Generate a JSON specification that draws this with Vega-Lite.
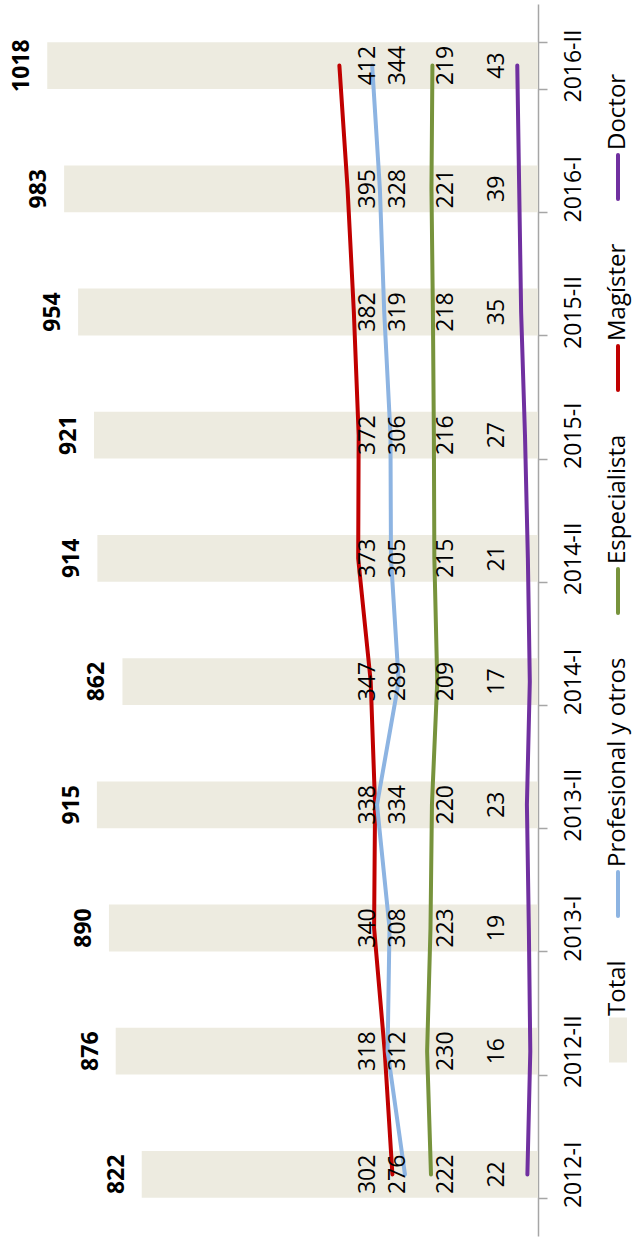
{
  "$schema": "https://vega.github.io/schema/vega-lite/v6.json",
  "width": 538,
  "height": 1232,
  "padding": {"left": 0, "top": 3, "right": 0, "bottom": 7},
  "background": "white",
  "config": {"view": {"stroke": null}, "font": "Open Sans"},
  "data": {"values": [
    {"period": "2012-I", "series": "Total", "value": 822},
    {"period": "2012-I", "series": "Magíster", "value": 302},
    {"period": "2012-I", "series": "Profesional y otros", "value": 276},
    {"period": "2012-I", "series": "Especialista", "value": 222},
    {"period": "2012-I", "series": "Doctor", "value": 22},
    {"period": "2012-II", "series": "Total", "value": 876},
    {"period": "2012-II", "series": "Magíster", "value": 318},
    {"period": "2012-II", "series": "Profesional y otros", "value": 312},
    {"period": "2012-II", "series": "Especialista", "value": 230},
    {"period": "2012-II", "series": "Doctor", "value": 16},
    {"period": "2013-I", "series": "Total", "value": 890},
    {"period": "2013-I", "series": "Magíster", "value": 340},
    {"period": "2013-I", "series": "Profesional y otros", "value": 308},
    {"period": "2013-I", "series": "Especialista", "value": 223},
    {"period": "2013-I", "series": "Doctor", "value": 19},
    {"period": "2013-II", "series": "Total", "value": 915},
    {"period": "2013-II", "series": "Magíster", "value": 338},
    {"period": "2013-II", "series": "Profesional y otros", "value": 334},
    {"period": "2013-II", "series": "Especialista", "value": 220},
    {"period": "2013-II", "series": "Doctor", "value": 23},
    {"period": "2014-I", "series": "Total", "value": 862},
    {"period": "2014-I", "series": "Magíster", "value": 347},
    {"period": "2014-I", "series": "Profesional y otros", "value": 289},
    {"period": "2014-I", "series": "Especialista", "value": 209},
    {"period": "2014-I", "series": "Doctor", "value": 17},
    {"period": "2014-II", "series": "Total", "value": 914},
    {"period": "2014-II", "series": "Magíster", "value": 373},
    {"period": "2014-II", "series": "Profesional y otros", "value": 305},
    {"period": "2014-II", "series": "Especialista", "value": 215},
    {"period": "2014-II", "series": "Doctor", "value": 21},
    {"period": "2015-I", "series": "Total", "value": 921},
    {"period": "2015-I", "series": "Magíster", "value": 372},
    {"period": "2015-I", "series": "Profesional y otros", "value": 306},
    {"period": "2015-I", "series": "Especialista", "value": 216},
    {"period": "2015-I", "series": "Doctor", "value": 27},
    {"period": "2015-II", "series": "Total", "value": 954},
    {"period": "2015-II", "series": "Magíster", "value": 382},
    {"period": "2015-II", "series": "Profesional y otros", "value": 319},
    {"period": "2015-II", "series": "Especialista", "value": 218},
    {"period": "2015-II", "series": "Doctor", "value": 35},
    {"period": "2016-I", "series": "Total", "value": 983},
    {"period": "2016-I", "series": "Magíster", "value": 395},
    {"period": "2016-I", "series": "Profesional y otros", "value": 328},
    {"period": "2016-I", "series": "Especialista", "value": 221},
    {"period": "2016-I", "series": "Doctor", "value": 39},
    {"period": "2016-II", "series": "Total", "value": 1018},
    {"period": "2016-II", "series": "Magíster", "value": 412},
    {"period": "2016-II", "series": "Profesional y otros", "value": 344},
    {"period": "2016-II", "series": "Especialista", "value": 219},
    {"period": "2016-II", "series": "Doctor", "value": 43}
  ]},
  "encoding": {
    "y": {
      "field": "period", "type": "nominal",
      "sort": ["2016-II", "2016-I", "2015-II", "2015-I", "2014-II", "2014-I", "2013-II", "2013-I", "2012-II", "2012-I"],
      "scale": {"paddingInner": 0.62, "paddingOuter": 0.31},
      "axis": {
        "orient": "right", "title": null, "grid": false,
        "domainColor": "#A6A6A6", "domainWidth": 1.5,
        "tickColor": "#A6A6A6", "tickWidth": 1.5, "tickSize": 9, "tickBand": "extent",
        "labelAngle": 270, "labelAlign": "center", "labelBaseline": "top", "labelPadding": 15,
        "labelFont": "Open Sans", "labelFontSize": 23, "labelColor": "#000000",
        "labelOverlap": false, "labelLimit": 0
      }
    }
  },
  "layer": [
    {
      "transform": [{"filter": "datum.series === 'Total'"}],
      "mark": {"type": "bar"},
      "encoding": {
        "x": {"field": "value", "type": "quantitative", "scale": {"domain": [0, 1116], "reverse": true, "nice": false, "zero": true}, "axis": null},
        "color": {
          "field": "series", "type": "nominal",
          "scale": {"domain": ["Doctor", "Magíster", "Especialista", "Profesional y otros", "Total"], "range": ["#7030A0", "#C00000", "#77933C", "#8DB4E2", "#EDEBE0"]},
          "legend": {
            "orient": "none", "legendX": 592, "legendY": 147, "direction": "vertical",
            "title": null, "padding": 0, "rowPadding": 35,
            "labelFont": "Open Sans", "labelFontSize": 24, "labelColor": "#000000", "labelLimit": 400, "labelOffset": 0,
            "symbolSize": 2304, "symbolStrokeWidth": 4,
            "encode": {
              "symbols": {"update": {
                "shape": {"signal": "datum.value === 'Total' ? 'M-0.29,-0.85H0.29V0.85H-0.29Z' : 'M0,-0.92V0.92'"},
                "fill": {"signal": "datum.value === 'Total' ? '#EDEBE0' : 'transparent'"},
                "stroke": {"signal": "datum.value === 'Total' ? 'transparent' : scale('color', datum.value)"},
                "strokeWidth": {"value": 4},
                "strokeCap": {"value": "round"},
                "opacity": {"value": 1}
              }},
              "labels": {"update": {
                "angle": {"value": 270},
                "align": {"value": "left"},
                "baseline": {"value": "middle"},
                "dx": {"signal": "datum.value === 'Total' ? 24 : 27"},
                "dy": {"value": -26}
              }}
            }
          }
        }
      }
    },
    {
      "transform": [{"filter": "datum.series !== 'Total'"}],
      "mark": {"type": "line", "strokeWidth": 4, "strokeCap": "round", "strokeJoin": "round"},
      "encoding": {
        "x": {"field": "value", "type": "quantitative"},
        "color": {"field": "series", "type": "nominal"}
      }
    },
    {
      "transform": [{"filter": "datum.series === 'Total'"}],
      "mark": {"type": "text", "angle": 270, "align": "center", "baseline": "alphabetic", "dy": -18, "font": "Open Sans", "fontSize": 23, "fontWeight": "bold", "color": "#000000"},
      "encoding": {
        "x": {"field": "value", "type": "quantitative"},
        "text": {"field": "value", "type": "quantitative"}
      }
    },
    {
      "transform": [{"filter": "datum.series === 'Magíster'"}],
      "mark": {"type": "text", "angle": 270, "align": "center", "baseline": "middle", "font": "Open Sans", "fontSize": 23, "color": "#000000"},
      "encoding": {
        "x": {"datum": 353, "type": "quantitative"},
        "text": {"field": "value", "type": "quantitative"}
      }
    },
    {
      "transform": [{"filter": "datum.series === 'Profesional y otros'"}],
      "mark": {"type": "text", "angle": 270, "align": "center", "baseline": "middle", "font": "Open Sans", "fontSize": 23, "color": "#000000"},
      "encoding": {
        "x": {"datum": 290, "type": "quantitative"},
        "text": {"field": "value", "type": "quantitative"}
      }
    },
    {
      "transform": [{"filter": "datum.series === 'Especialista'"}],
      "mark": {"type": "text", "angle": 270, "align": "center", "baseline": "middle", "font": "Open Sans", "fontSize": 23, "color": "#000000"},
      "encoding": {
        "x": {"datum": 191, "type": "quantitative"},
        "text": {"field": "value", "type": "quantitative"}
      }
    },
    {
      "transform": [{"filter": "datum.series === 'Doctor'"}],
      "mark": {"type": "text", "angle": 270, "align": "center", "baseline": "middle", "font": "Open Sans", "fontSize": 23, "color": "#000000"},
      "encoding": {
        "x": {"datum": 85, "type": "quantitative"},
        "text": {"field": "value", "type": "quantitative"}
      }
    }
  ]
}
